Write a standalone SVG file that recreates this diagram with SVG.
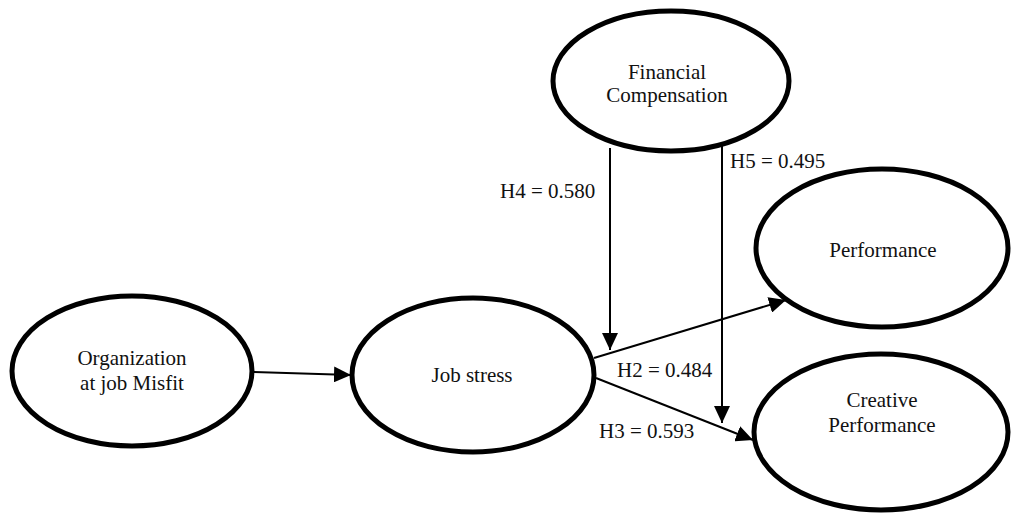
<svg xmlns="http://www.w3.org/2000/svg" width="1011" height="513" viewBox="0 0 1011 513">
<style>
.node{fill:#fff;stroke:#000;stroke-width:5}
.t{font-family:"Liberation Serif","Times New Roman",serif;font-size:21px;fill:#111}
.c{text-anchor:middle}
.edge{stroke:#000;stroke-width:2;fill:none;marker-end:url(#ah)}
</style>
<defs>
<marker id="ah" markerUnits="userSpaceOnUse" markerWidth="18" markerHeight="16" refX="17" refY="8" orient="auto">
<path d="M0,0 L17,8 L0,16 Z" fill="#000"/>
</marker>
</defs>
<rect width="1011" height="513" fill="#fff"/>
<g id="connectors">
<line class="edge" x1="253" y1="372" x2="351" y2="375"/>
<line class="edge" x1="610" y1="148" x2="610" y2="350"/>
<line class="edge" x1="722" y1="143" x2="722" y2="423"/>
<line class="edge" x1="594" y1="358" x2="786" y2="300"/>
<line class="edge" x1="596" y1="378" x2="753" y2="440"/>
</g>
<g id="labels">
<text class="t" x="500" y="198">H4 = 0.580</text>
<text class="t" x="730" y="168">H5 = 0.495</text>
<text class="t" x="617" y="377">H2 = 0.484</text>
<text class="t" x="599" y="438">H3 = 0.593</text>
</g>
<g id="financial">
<ellipse class="node" cx="671" cy="81" rx="118" ry="70"/>
<text class="t c" x="667" y="79">Financial</text>
<text class="t c" x="667" y="102">Compensation</text>
</g>
<g id="organization">
<ellipse class="node" cx="132" cy="371" rx="120" ry="75"/>
<text class="t c" x="132" y="365">Organization</text>
<text class="t c" x="132" y="390">at job Misfit</text>
</g>
<g id="jobstress">
<ellipse class="node" cx="473" cy="375" rx="121" ry="77"/>
<text class="t c" x="472" y="382">Job stress</text>
</g>
<g id="performance">
<ellipse class="node" cx="882" cy="248" rx="126" ry="79"/>
<text class="t c" x="883" y="257">Performance</text>
</g>
<g id="creative">
<ellipse class="node" cx="881" cy="432" rx="127" ry="78"/>
<text class="t c" x="882" y="407">Creative</text>
<text class="t c" x="882" y="432">Performance</text>
</g>
</svg>
